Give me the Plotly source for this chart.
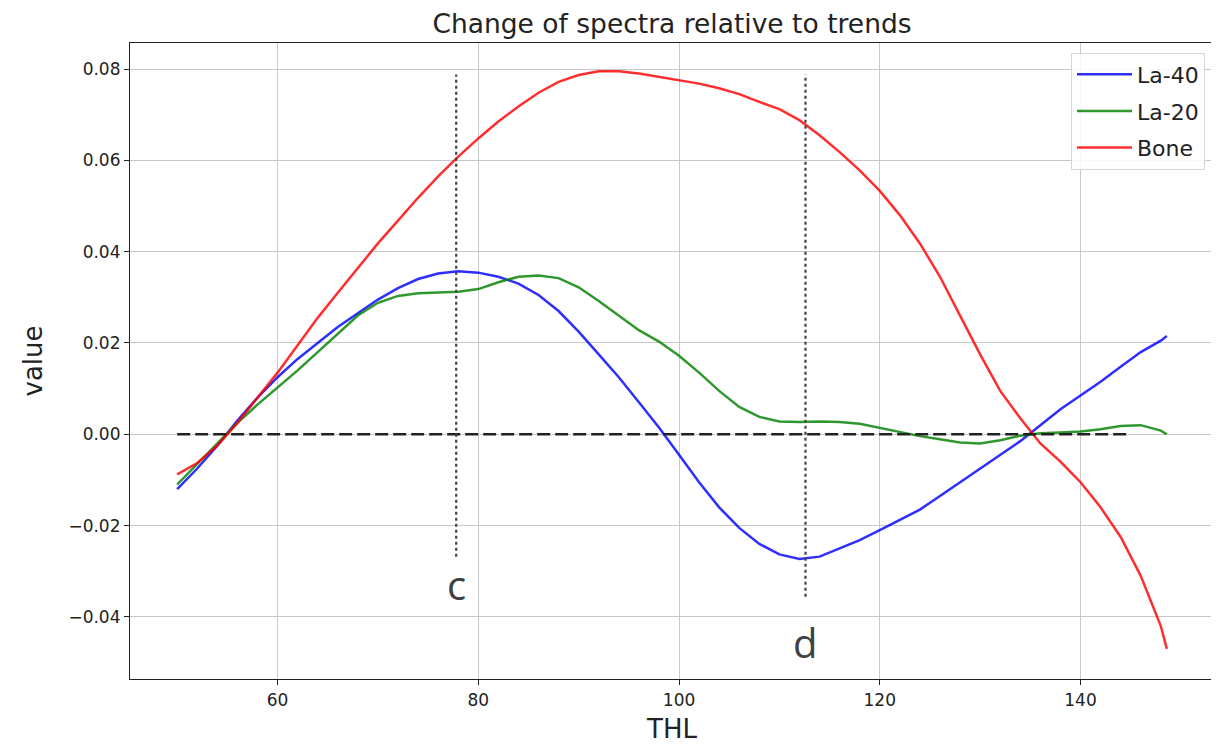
import plotly.graph_objects as go

thl = [50, 52, 54, 56, 58, 60, 62, 64, 66, 68, 70, 72, 74, 76, 78, 80, 82, 84, 86, 88,
       90, 92, 94, 96, 98, 100, 102, 104, 106, 108, 110, 112, 114, 116, 118, 120, 122, 124,
       126, 128, 130, 132, 134, 136, 138, 140, 142, 144, 146, 148, 148.6]

la40 = [-0.012, -0.0075, -0.0025, 0.003, 0.008, 0.0125, 0.0165, 0.020, 0.0235, 0.0265,
        0.0295, 0.032, 0.034, 0.0352, 0.0357, 0.0354, 0.0345, 0.033, 0.0305, 0.027,
        0.0225, 0.0175, 0.0125, 0.007, 0.0015, -0.0045, -0.0105, -0.016, -0.0205, -0.024,
        -0.0263, -0.0273, -0.0268, -0.025, -0.0232, -0.021, -0.0188, -0.0165, -0.0135, -0.0105,
        -0.0075, -0.0045, -0.0015, 0.002, 0.0055, 0.0085, 0.0115, 0.0148, 0.018, 0.0205, 0.0215]

la20 = [-0.011, -0.0065, -0.0018, 0.0025, 0.0065, 0.0102, 0.014, 0.018, 0.022, 0.026,
        0.0288, 0.0303, 0.0309, 0.0311, 0.0312, 0.0318, 0.0333, 0.0345, 0.0348, 0.0342,
        0.0322, 0.0292, 0.026, 0.0228, 0.0203, 0.0172, 0.0135, 0.0095, 0.006, 0.0038,
        0.0028, 0.0027, 0.0028, 0.0027, 0.0023, 0.0014, 0.0005, -0.0004, -0.0011, -0.0018,
        -0.002, -0.0013, -0.0003, 0.0002, 0.0004, 0.0006, 0.0011, 0.0018, 0.002, 0.0008, 0.0]

bone = [-0.0088, -0.0063, -0.0025, 0.0025, 0.008, 0.0135, 0.0195, 0.0255, 0.031, 0.0365,
        0.0418, 0.0468, 0.0518, 0.0565, 0.0608, 0.0648, 0.0685, 0.0718, 0.0748, 0.0772,
        0.0787, 0.0795, 0.0795, 0.079, 0.0783, 0.0776, 0.0768, 0.0758, 0.0745, 0.0728,
        0.0712, 0.0688, 0.0655, 0.0618, 0.0578, 0.0533, 0.048, 0.0418, 0.0345, 0.026,
        0.0175, 0.0095, 0.0035, -0.002, -0.006, -0.0105, -0.016, -0.0225, -0.031, -0.042, -0.047]

zero_line_x = [50, 145]
marker_c = {"x": 77.8, "y0": -0.0268, "y1": 0.0788, "label_y": -0.0328, "label": "c"}
marker_d = {"x": 112.6, "y0": -0.0356, "y1": 0.0788, "label_y": -0.0455, "label": "d"}

x_ticks = [60, 80, 100, 120, 140]
y_ticks = [-0.04, -0.02, 0.0, 0.02, 0.04, 0.06, 0.08]

fig = go.Figure()
series = [("La-40", la40, "rgba(0,0,255,0.82)"),
          ("La-20", la20, "rgba(0,128,0,0.82)"),
          ("Bone", bone, "rgba(255,0,0,0.82)")]
for name, vals, col in series:
    fig.add_trace(go.Scatter(x=thl, y=vals, mode="lines", name=name, legendgroup=name,
                             line=dict(color=col, width=2.5)))
fig.add_trace(go.Scatter(x=zero_line_x, y=[0, 0], mode="lines", showlegend=False,
                         line=dict(color="#222222", width=2.5, dash="13px,5px")))
for m in (marker_c, marker_d):
    fig.add_trace(go.Scatter(x=[m["x"], m["x"]], y=[m["y0"], m["y1"]], mode="lines",
                             showlegend=False,
                             line=dict(color="#444444", width=2.2, dash="3px,3px")))
    fig.add_annotation(x=m["x"], y=m["label_y"], text=m["label"], showarrow=False,
                       font=dict(size=40, color="#404040", family="Open Sans"))

fig.update_layout(
    width=1211, height=736,
    margin=dict(l=122, r=5, t=35, b=65, autoexpand=False),
    plot_bgcolor="white", paper_bgcolor="white",
    font=dict(family="DejaVu Sans", color="black"),
    title=dict(text="Change of spectra relative to trends", x=0.5, xref="paper",
               y=0.979, yanchor="middle", font=dict(size=26.5, color="#222")),
    legend=dict(x=0.9917, y=0.985, xanchor="right", yanchor="top",
                bgcolor="rgba(255,255,255,0.85)", bordercolor="#d5d5d5", borderwidth=1,
                font=dict(size=22, color="#222"), itemwidth=55, tracegroupgap=5,
                traceorder="grouped"),
    showlegend=True,
)
fig.update_xaxes(range=[45.3, 153.3], tickvals=x_ticks, ticktext=[str(v) for v in x_ticks],
                 showgrid=True, gridcolor="#c8c8c8", gridwidth=1, automargin=False,
                 showline=True, linecolor="#222", linewidth=1.2, mirror=True,
                 ticks="outside", ticklen=5, tickcolor="#222",
                 tickfont=dict(size=17, color="#222"), zeroline=False,
                 title=dict(text="THL", font=dict(size=26, color="#222"), standoff=14))
fig.update_yaxes(range=[-0.0536, 0.0857], tickvals=y_ticks, tickformat=".2f",
                 showgrid=True, gridcolor="#c8c8c8", gridwidth=1, automargin=False,
                 showline=True, linecolor="#222", linewidth=1.2, mirror=True,
                 ticks="outside", ticklen=5, tickcolor="#222",
                 tickfont=dict(size=17, color="#222"), zeroline=False,
                 title=dict(text="value", font=dict(size=26, color="#222"), standoff=18))

fig.write_html("out.html")
